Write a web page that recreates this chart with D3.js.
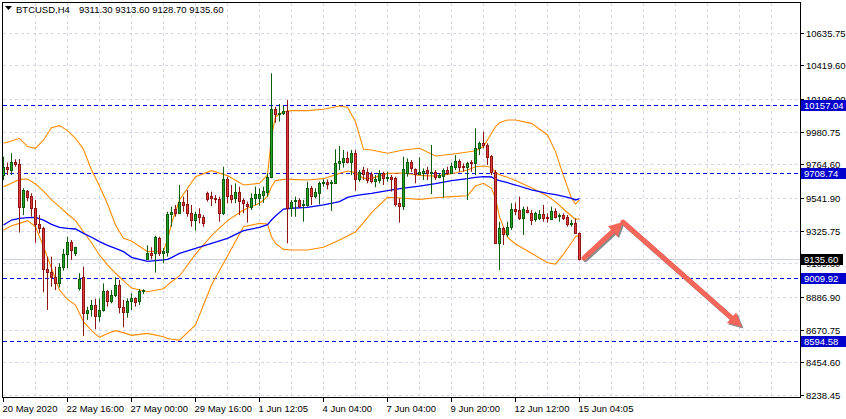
<!DOCTYPE html>
<html><head><meta charset="utf-8">
<script src="https://cdn.jsdelivr.net/npm/d3@7"></script>
<style>html,body{margin:0;padding:0;background:#fff}svg{display:block}</style>
</head><body>
<svg id="chart" width="846" height="419"></svg>
<script>
// ---------- data ----------
const symbolTitle = "BTCUSD,H4";
const timeLabels = ["20 May 2020","22 May 16:00","27 May 00:00","29 May 16:00","1 Jun 12:05","4 Jun 04:00","7 Jun 04:00","9 Jun 20:00","12 Jun 12:00","15 Jun 04:05"];
const timeLabelBars = [0,16,32,48,64,80,96,112,128,144];
const priceTicks = [10635.75,10419.60,10196.00,9980.75,9764.60,9541.90,9325.75,9109.60,8886.90,8670.75,8454.60,8238.45];
const levelLines = [10157.04,9708.74,9009.92,8594.58];
const bidPrice = 9135.60;

const openP = [9694,9749,9727,9780,9765,9485,9590,9555,9474,9370,9341,9072,9050,9017,8982,9083,9169,9249,9180,8949,
9017,8779,8805,8832,8761,8801,8929,8863,8898,8964,8818,8785,8858,8880,8858,8927,9138,9180,9176,9275,
9176,9187,9436,9467,9445,9513,9500,9445,9396,9436,9418,9573,9555,9544,9535,9440,9668,9562,9540,9579,
9529,9500,9485,9542,9540,9564,9584,9679,10129,10098,10102,10120,9474,9520,9529,9493,9496,9608,9557,9577,
9639,9648,9639,9643,9771,9782,9807,9782,9838,9665,9727,9716,9699,9654,9661,9705,9672,9683,9672,9511,
9489,9705,9782,9732,9701,9710,9727,9705,9716,9683,9688,9727,9710,9749,9787,9754,9745,9780,9771,9871,
9908,9893,9820,9716,9246,9341,9302,9352,9467,9462,9407,9462,9445,9401,9407,9434,9418,9401,9456,9425,
9429,9414,9368,9379,9311.3];
const highP = [9815,9776,9838,9798,9800,9606,9595,9573,9529,9429,9352,9154,9154,9088,9110,9205,9286,9264,9220,9044,
9088,8823,8867,8876,8876,8977,8933,8933,9017,9000,8867,8878,8911,8885,8938,8938,9229,9216,9293,9286,
9209,9451,9485,9496,9628,9551,9595,9496,9451,9474,9429,9584,9584,9562,9551,9749,9683,9628,9639,9617,
9540,9518,9573,9617,9606,9617,9705,10367,10146,10164,10151,10190,9529,9551,9540,9529,9650,9621,9606,9650,
9665,9665,9661,9864,9886,9860,9849,9860,9860,9727,9749,9738,9716,9694,9727,9716,9716,9694,9683,9540,
9815,9804,9793,9738,9811,9738,9749,9893,9727,9705,9738,9749,9776,9826,9798,9771,9782,9793,10003,9915,
9981,9904,9826,9727,9385,9352,9385,9507,9511,9551,9485,9485,9462,9451,9462,9496,9440,9485,9473,9440,
9440,9429,9396,9407,9313.6];
const lowP = [9661,9694,9694,9749,9313,9429,9520,9418,9246,9308,8918,8801,8955,8933,8951,9061,9077,9132,9158,8929,
8629,8735,8757,8673,8724,8790,8823,8845,8885,8779,8686,8750,8801,8823,8834,8907,9132,9136,9048,9158,
9110,9154,9352,9418,9440,9451,9418,9352,9326,9374,9352,9518,9489,9507,9385,9429,9507,9507,9507,9429,
9440,9379,9463,9496,9491,9511,9551,9672,10040,10047,10091,9242,9418,9418,9474,9385,9485,9496,9540,9500,
9617,9599,9456,9639,9727,9743,9771,9694,9590,9650,9661,9639,9639,9613,9639,9628,9650,9584,9485,9379,
9462,9683,9716,9639,9694,9661,9661,9568,9661,9672,9546,9694,9705,9727,9716,9716,9529,9716,9694,9826,
9871,9760,9694,9242,9066,9231,9286,9330,9429,9396,9297,9440,9363,9385,9396,9385,9379,9396,9407,9385,
9396,9352,9352,9308,9128.7];
const closeP = [9745,9732,9778,9765,9485,9595,9551,9474,9368,9341,9070,9055,9017,8982,9083,9171,9249,9198,9216,9006,
8779,8801,8832,8763,8801,8927,8863,8898,8964,8818,8785,8860,8880,8856,8929,8933,9180,9167,9282,9176,
9191,9436,9449,9445,9513,9496,9445,9396,9436,9418,9374,9533,9540,9538,9440,9668,9555,9538,9579,9524,
9507,9489,9544,9571,9566,9586,9679,10129,10098,10107,10120,9474,9518,9529,9489,9502,9608,9557,9582,9639,
9648,9635,9648,9771,9789,9807,9782,9838,9665,9716,9701,9661,9657,9668,9705,9672,9683,9665,9502,9489,
9732,9782,9738,9701,9716,9721,9705,9716,9683,9694,9727,9710,9754,9787,9749,9745,9776,9771,9871,9904,
9893,9811,9716,9246,9341,9302,9352,9467,9456,9407,9467,9449,9396,9440,9434,9407,9414,9456,9418,9429,
9407,9370,9379,9311.3,9135.6];

// indicator samples (bar index -> price)
const bandBars   = [0,2,4,6,8,10,12,14,16,18,20,22,24,26,28,30,32,36,40,41,42,44,48,52,56,60,64,66,67,68,70,72,76,80,84,86,88,90,92,96,100,104,108,112,116,118,120,122,123,124,126,128,132,136,138,140,142,143,144];
const upperBand  = [9904,9919,9937,9882,9871,9926,10007,10021,9988,9937,9864,9727,9621,9502,9363,9275,9257,9187,9191,9264,9374,9529,9683,9723,9690,9628,9639,9694,9948,10080,10113,10120,10120,10129,10151,10142,10047,9864,9860,9838,9860,9871,9820,9831,9846,9855,9882,9970,10014,10040,10058,10058,10036,9959,9849,9688,9540,9502,9529];
const middleBand = [9617,9639,9665,9668,9635,9588,9529,9485,9436,9392,9319,9246,9165,9099,9044,8995,8946,8922,8942,8966,8988,9026,9171,9293,9392,9463,9507,9551,9617,9657,9665,9665,9661,9670,9705,9721,9710,9672,9672,9705,9707,9692,9687,9703,9727,9749,9754,9745,9710,9696,9679,9657,9610,9555,9516,9469,9423,9401,9405];
const lowerBand  = [9330,9359,9374,9392,9352,9220,9077,8933,8871,8834,8724,8664,8620,8646,8664,8651,8633,8646,8624,8613,8607,8602,8702,8966,9158,9352,9374,9370,9286,9242,9202,9198,9198,9216,9264,9291,9319,9379,9445,9546,9540,9533,9544,9551,9557,9621,9639,9606,9540,9418,9282,9238,9176,9114,9105,9171,9246,9286,9297];
const maLine     = [9363,9396,9407,9412,9414,9396,9368,9348,9341,9337,9308,9282,9253,9229,9209,9187,9149,9123,9132,9136,9147,9176,9209,9242,9275,9326,9348,9366,9396,9423,9469,9474,9480,9496,9518,9546,9557,9566,9573,9591,9608,9621,9637,9657,9670,9679,9683,9681,9665,9657,9643,9628,9595,9573,9564,9553,9540,9529,9538];

// forecast arrows: [bar index, price]
const arrowUp   = [[145.25,9145],[155,9383]];
const arrowDown = [[155,9383],[184.75,8688]];

(function(){
const svg = d3.select("#chart");
const FONT = "'Liberation Sans', Arial, sans-serif";
const L = 3, R = 800, T = 3, B = 397;

const x = d3.scaleLinear().domain([0, 199.25]).range([L, R]);
const y = d3.scaleLinear().domain([8238.45, 10635.75]).range([395, 32.7]);
const px = v => Math.round(v) + 0.5;

svg.append("rect").attr("width",846).attr("height",419).attr("fill","#fff");

svg.append("clipPath").attr("id","plot").append("rect")
  .attr("x",L).attr("y",T).attr("width",R-L).attr("height",B-T);

const grid = svg.append("g").attr("stroke","#d6d6ec").attr("stroke-width",1).attr("stroke-dasharray","3,3");
priceTicks.forEach(p => grid.append("line").attr("x1",L).attr("x2",R).attr("y1",px(y(p))).attr("y2",px(y(p))));
d3.range(8, 200, 8).forEach(i => grid.append("line").attr("y1",T).attr("y2",B).attr("x1",px(x(i))).attr("x2",px(x(i))));

const plot = svg.append("g").attr("clip-path","url(#plot)");

plot.append("line").attr("x1",L).attr("x2",R).attr("y1",px(y(bidPrice))).attr("y2",px(y(bidPrice)))
  .attr("stroke","#cfcfe6").attr("stroke-width",1);

levelLines.forEach(p => plot.append("line").attr("x1",L).attr("x2",R)
  .attr("y1",px(y(p))).attr("y2",px(y(p))).attr("stroke","#0000ff").attr("stroke-width",1).attr("stroke-dasharray","4,3"));

const lineGen = arr => d3.line().x((d,k)=>x(bandBars[k])+0.5).y(d=>y(d))(arr);
[upperBand, middleBand, lowerBand].forEach(arr => plot.append("path").attr("d", lineGen(arr))
  .attr("fill","none").attr("stroke","#ff8c00").attr("stroke-width",1.1));
plot.append("path").attr("d", lineGen(maLine)).attr("fill","none").attr("stroke","#0000ff").attr("stroke-width",1.3);

const cg = plot.append("g");
d3.range(closeP.length).forEach(i => {
  const up = closeP[i] >= openP[i];
  const cx = Math.round(x(i)) + 0.5;
  const edge = up ? "#0b5d0b" : "#8f1414";
  const fill = up ? "#23a523" : "#e23b3b";
  cg.append("line").attr("x1",cx).attr("x2",cx).attr("y1",y(highP[i])).attr("y2",y(lowP[i]))
    .attr("stroke",edge).attr("stroke-width",1);
  const yTop = Math.round(y(Math.max(openP[i],closeP[i])));
  const yBot = Math.round(y(Math.min(openP[i],closeP[i])));
  cg.append("rect").attr("x",cx-1).attr("y",yTop+0.5).attr("width",2).attr("height",Math.max(1,yBot-yTop))
    .attr("fill",fill).attr("stroke",edge).attr("stroke-width",1);
});

function drawArrow(g, seg, color, dx, dy) {
  const [a,b] = seg.map(d => [x(d[0])+dx, y(d[1])+dy]);
  const ang = Math.atan2(b[1]-a[1], b[0]-a[0]);
  const hl = 14, hw = 7;
  const base = [b[0]-hl*Math.cos(ang), b[1]-hl*Math.sin(ang)];
  g.append("line").attr("x1",a[0]).attr("y1",a[1]).attr("x2",base[0]+2*Math.cos(ang)).attr("y2",base[1]+2*Math.sin(ang))
    .attr("stroke",color).attr("stroke-width",5).attr("stroke-linecap","round");
  const p1 = [base[0]+hw*Math.sin(ang), base[1]-hw*Math.cos(ang)];
  const p2 = [base[0]-hw*Math.sin(ang), base[1]+hw*Math.cos(ang)];
  g.append("path").attr("d",`M${b[0]},${b[1]}L${p1[0]},${p1[1]}L${p2[0]},${p2[1]}Z`).attr("fill",color);
}
const ag = plot.append("g");
[arrowUp, arrowDown].forEach(s => drawArrow(ag, s, "#8a8a8a", 1.5, 1.5));
[arrowUp, arrowDown].forEach(s => drawArrow(ag, s, "#f4665a", 0, 0));

svg.append("rect").attr("x",2.5).attr("y",2.5).attr("width",R-2).attr("height",B-2)
  .attr("fill","none").attr("stroke","#000").attr("stroke-width",1);

const ra = svg.append("g").attr("font-family",FONT).attr("font-size","9.5px").attr("fill","#000");
priceTicks.forEach(p => {
  const yy = px(y(p));
  ra.append("line").attr("x1",R+0.5).attr("x2",R+4).attr("y1",yy).attr("y2",yy).attr("stroke","#000");
  ra.append("text").attr("x",806).attr("y",yy+3.5).text(p.toFixed(2));
});
levelLines.forEach(p => {
  const yy = Math.round(y(p));
  ra.append("rect").attr("x",801).attr("y",yy-5).attr("width",45).attr("height",11).attr("fill","#0000cd");
  ra.append("text").attr("x",804).attr("y",yy+4).attr("fill","#fff").text(p.toFixed(2));
});
{
  const yy = Math.round(y(bidPrice));
  ra.append("rect").attr("x",801).attr("y",yy-5).attr("width",42).attr("height",11).attr("fill","#000");
  ra.append("text").attr("x",804).attr("y",yy+4).attr("fill","#fff").text(bidPrice.toFixed(2));
}

const ba = svg.append("g").attr("font-family",FONT).attr("font-size","9.5px").attr("fill","#000");
timeLabelBars.forEach((b,k) => {
  const xx = px(x(b));
  ba.append("line").attr("x1",xx).attr("x2",xx).attr("y1",B).attr("y2",B+5).attr("stroke","#000");
  ba.append("text").attr("x",xx-1).attr("y",412).text(timeLabels[k]);
});

const last = closeP.length - 1;
svg.append("path").attr("d","M5,6L12,6L8.5,10Z").attr("fill","#000");
svg.append("text").attr("x",16).attr("y",13).attr("font-family",FONT).attr("font-size","9.5px").text(symbolTitle);
svg.append("text").attr("x",79).attr("y",13).attr("font-family",FONT).attr("font-size","9.5px")
  .text([openP[last],highP[last],lowP[last],closeP[last]].map(v=>v.toFixed(2)).join(" "));
})();
</script>
</body></html>
